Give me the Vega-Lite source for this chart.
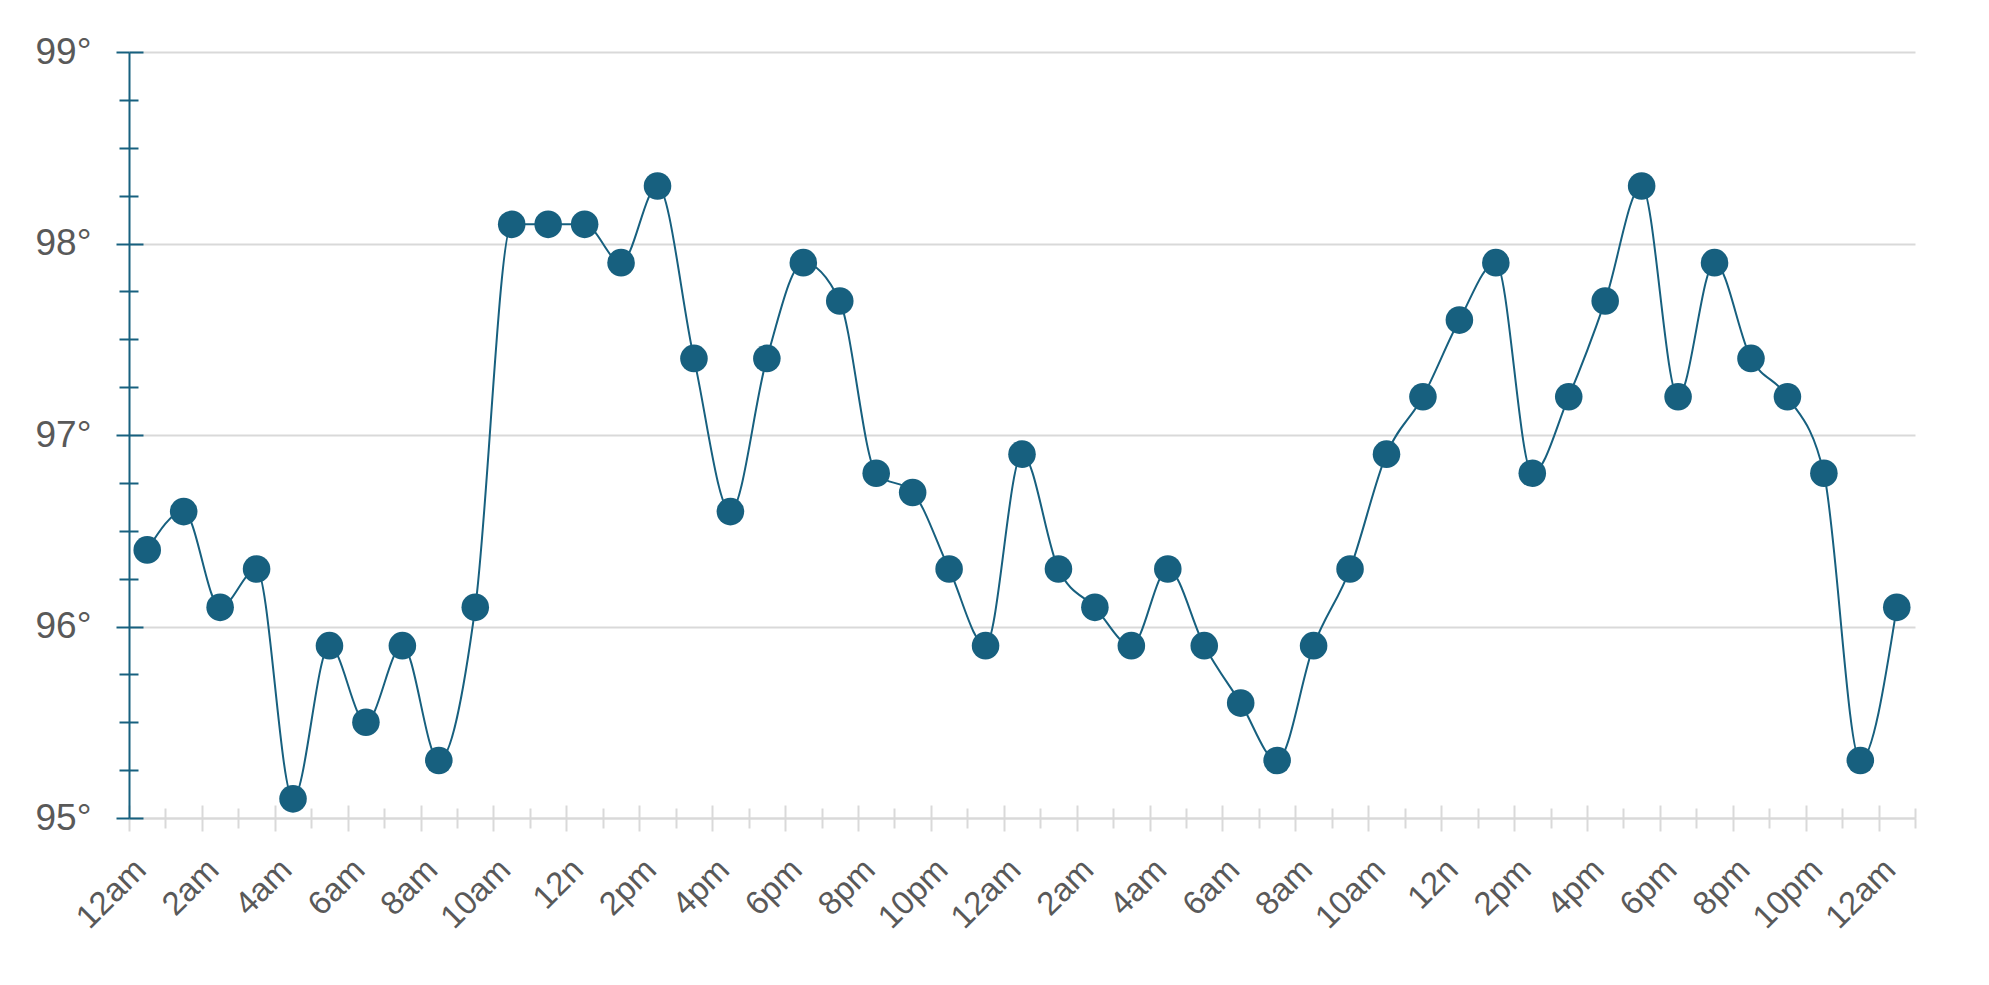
{
  "$schema": "https://vega.github.io/schema/vega-lite/v6.json",
  "width": 1786,
  "height": 766,
  "autosize": "none",
  "padding": {"left": 129, "top": 52, "right": 74, "bottom": 167},
  "background": "white",
  "config": {
    "view": {"stroke": null},
    "axis": {"labelFont": "Liberation Sans", "labelColor": "#595959"}
  },
  "data": {
    "values": [
      {"h": 0.5, "t": 96.4}, {"h": 1.5, "t": 96.6}, {"h": 2.5, "t": 96.1}, {"h": 3.5, "t": 96.3},
      {"h": 4.5, "t": 95.1}, {"h": 5.5, "t": 95.9}, {"h": 6.5, "t": 95.5}, {"h": 7.5, "t": 95.9},
      {"h": 8.5, "t": 95.3}, {"h": 9.5, "t": 96.1}, {"h": 10.5, "t": 98.1}, {"h": 11.5, "t": 98.1},
      {"h": 12.5, "t": 98.1}, {"h": 13.5, "t": 97.9}, {"h": 14.5, "t": 98.3}, {"h": 15.5, "t": 97.4},
      {"h": 16.5, "t": 96.6}, {"h": 17.5, "t": 97.4}, {"h": 18.5, "t": 97.9}, {"h": 19.5, "t": 97.7},
      {"h": 20.5, "t": 96.8}, {"h": 21.5, "t": 96.7}, {"h": 22.5, "t": 96.3}, {"h": 23.5, "t": 95.9},
      {"h": 24.5, "t": 96.9}, {"h": 25.5, "t": 96.3}, {"h": 26.5, "t": 96.1}, {"h": 27.5, "t": 95.9},
      {"h": 28.5, "t": 96.3}, {"h": 29.5, "t": 95.9}, {"h": 30.5, "t": 95.6}, {"h": 31.5, "t": 95.3},
      {"h": 32.5, "t": 95.9}, {"h": 33.5, "t": 96.3}, {"h": 34.5, "t": 96.9}, {"h": 35.5, "t": 97.2},
      {"h": 36.5, "t": 97.6}, {"h": 37.5, "t": 97.9}, {"h": 38.5, "t": 96.8}, {"h": 39.5, "t": 97.2},
      {"h": 40.5, "t": 97.7}, {"h": 41.5, "t": 98.3}, {"h": 42.5, "t": 97.2}, {"h": 43.5, "t": 97.9},
      {"h": 44.5, "t": 97.4}, {"h": 45.5, "t": 97.2}, {"h": 46.5, "t": 96.8}, {"h": 47.5, "t": 95.3},
      {"h": 48.5, "t": 96.1}
    ]
  },
  "layer": [
    {
      "mark": {"type": "line", "interpolate": "monotone", "color": "#17607f", "strokeWidth": 2},
      "encoding": {
        "x": {
          "field": "h", "type": "quantitative",
          "scale": {"domain": [0, 49], "nice": false, "zero": false},
          "axis": {
            "orient": "bottom", "title": null,
            "values": [0,1,2,3,4,5,6,7,8,9,10,11,12,13,14,15,16,17,18,19,20,21,22,23,24,25,26,27,28,29,30,31,32,33,34,35,36,37,38,39,40,41,42,43,44,45,46,47,48,49],
            "domainColor": "#d9d9d9", "domainWidth": 2,
            "tickColor": "#d9d9d9", "tickWidth": 2,
            "tickSize": {"condition": {"test": "datum.value % 2 == 0", "value": 13}, "value": 10},
            "grid": false,
            "labelAngle": -45, "labelAlign": "right", "labelBaseline": "top",
            "labelFontSize": 33, "labelPadding": 22, "labelOverlap": false, "labelFlush": false,
            "labelExpr": "(datum.value % 2 != 0 || datum.value > 48) ? '' : (datum.value % 24 == 0 ? '12am' : (datum.value % 24 == 12 ? '12n' : (datum.value % 24 < 12 ? (datum.value % 24) + 'am' : (datum.value % 24 - 12) + 'pm')))"
          }
        },
        "y": {
          "field": "t", "type": "quantitative",
          "scale": {"domain": [95, 99], "nice": false, "zero": false},
          "axis": {
            "orient": "left", "title": null,
            "values": [95,95.25,95.5,95.75,96,96.25,96.5,96.75,97,97.25,97.5,97.75,98,98.25,98.5,98.75,99],
            "domainColor": "#17607f", "domainWidth": 2,
            "tickColor": "#17607f", "tickWidth": 2,
            "tickSize": {"condition": {"test": "datum.value % 1 == 0", "value": 13}, "value": 10},
            "grid": true, "gridColor": "#d9d9d9", "gridWidth": 2,
            "gridOpacity": {"condition": {"test": "datum.value % 1 == 0", "value": 1}, "value": 0},
            "labelFontSize": 37, "labelPadding": 25, "labelBaseline": "middle",
            "labelOverlap": false, "labelFlush": false,
            "labelExpr": "datum.value % 1 == 0 ? datum.value + '°' : ''"
          }
        }
      }
    },
    {
      "mark": {"type": "point", "filled": true, "size": 760, "opacity": 1, "color": "#17607f"},
      "encoding": {
        "x": {
          "field": "h", "type": "quantitative",
          "axis": {
            "orient": "top", "offset": -766, "title": null,
            "values": [0,1,2,3,4,5,6,7,8,9,10,11,12,13,14,15,16,17,18,19,20,21,22,23,24,25,26,27,28,29,30,31,32,33,34,35,36,37,38,39,40,41,42,43,44,45,46,47,48,49],
            "domain": false, "labels": false, "grid": false,
            "tickColor": "#d9d9d9", "tickWidth": 2,
            "tickSize": {"condition": {"test": "datum.value % 2 == 0", "value": 13}, "value": 10}
          }
        },
        "y": {
          "field": "t", "type": "quantitative",
          "axis": {
            "orient": "right", "offset": -1786, "title": null,
            "values": [95,95.25,95.5,95.75,96,96.25,96.5,96.75,97,97.25,97.5,97.75,98,98.25,98.5,98.75,99],
            "domain": false, "labels": false, "grid": false,
            "tickColor": "#17607f", "tickWidth": 2,
            "tickSize": {"condition": {"test": "datum.value % 1 == 0", "value": 14}, "value": 9}
          }
        }
      }
    }
  ]
}
